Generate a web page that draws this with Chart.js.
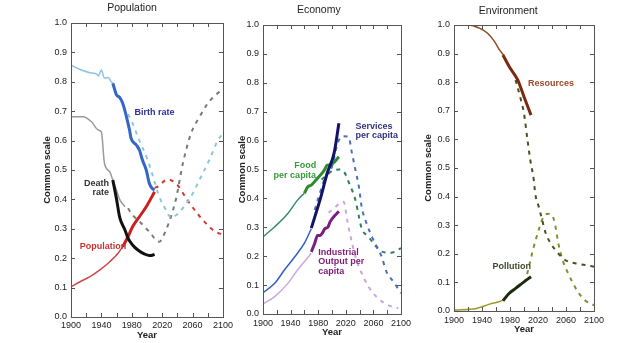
<html>
<head>
  <title>Limits to growth - three panels</title>
  <script src="https://cdn.jsdelivr.net/npm/chart.js"></script>
  <style>
    body { margin: 0; background: #fff; }
    #wrap { position: relative; width: 624px; height: 343px; overflow: hidden; }
    canvas { position: absolute; top: 0; }
  </style>
</head>
<body>
  <div id="wrap">
    <canvas id="pop" width="236" height="343" style="left:0px"></canvas>
    <canvas id="eco" width="189" height="343" style="left:226px"></canvas>
    <canvas id="env" width="196" height="343" style="left:412px"></canvas>
  </div>
  <script>
    // ---- data, [year, value] on the common scale ----
    // population panel
    const birthEarly = [[1900,.857],[1912,.842],[1925,.831],[1934,.826],[1936,.82],[1940,.84],[1944,.812],[1949,.815],[1953,.80],[1955,.795]];
    const birthRecent = [[1955,.795],[1960,.755],[1964,.747],[1968,.727],[1973,.681],[1977,.636],[1979,.608],[1986,.585],[1990,.568],[1994,.534],[1999,.50],[2003,.455],[2007,.437],[2010,.432]];
    const birthProj = [[1975,.69],[1980,.665],[1990,.60],[2000,.54],[2008,.477],[2016,.41],[2025,.364],[2032,.337],[2040,.35],[2050,.38],[2058,.41],[2069,.466],[2082,.534],[2093,.60],[2100,.625]];
    const deathEarly = [[1900,.681],[1916,.681],[1927,.664],[1936,.636],[1940,.63],[1944,.523],[1951,.494],[1955,.466],[1960,.43],[1964,.40],[1971,.375]];
    const deathRecent = [[1955,.466],[1960,.40],[1964,.34],[1971,.296],[1975,.268],[1981,.245],[1988,.228],[1997,.214],[2003,.209],[2007,.21],[2010,.213]];
    const deathProj = [[1975,.37],[1981,.347],[1992,.32],[2003,.29],[2016,.256],[2025,.296],[2038,.40],[2047,.52],[2058,.625],[2069,.68],[2077,.715],[2086,.745],[2100,.775]];
    const popEarly = [[1900,.103],[1912,.12],[1925,.137],[1938,.16],[1951,.188],[1962,.217],[1968,.239],[1972,.255]];
    const popRecent = [[1968,.239],[1975,.273],[1981,.307],[1990,.341],[1999,.375],[2010,.426]];
    const popProj = [[2010,.44],[2014,.443],[2027,.468],[2040,.449],[2053,.398],[2066,.353],[2077,.32],[2090,.29],[2100,.28]];

    // economy panel
    const foodEarly = [[1900,.267],[1917,.302],[1936,.348],[1950,.394],[1960,.418]];
    const foodRecent = [[1960,.418],[1965,.44],[1970,.446],[1979,.47],[1989,.498],[1993,.515],[1998,.516],[2005,.53],[2010,.544]];
    const foodProj = [[1985,.465],[1990,.475],[2000,.495],[2010,.50],[2015,.498],[2027,.44],[2034,.394],[2039,.337],[2043,.296],[2053,.267],[2060,.245],[2072,.216],[2086,.212],[2100,.228]];
    const servEarly = [[1900,.074],[1917,.106],[1931,.152],[1946,.198],[1960,.245],[1970,.295]];
    const servRecent = [[1970,.297],[1984,.406],[1993,.487],[2003,.556],[2010,.66]];
    const servProj = [[1975,.36],[1980,.40],[1990,.47],[2000,.51],[2008,.59],[2015,.615],[2024,.613],[2029,.556],[2034,.498],[2039,.44],[2043,.371],[2050,.314],[2058,.267],[2065,.233],[2072,.198],[2079,.146],[2089,.112],[2100,.072]];
    const indEarly = [[1900,.035],[1917,.06],[1936,.106],[1950,.152],[1962,.187],[1970,.21]];
    const indRecent = [[1970,.215],[1975,.245],[1979,.272],[1983,.272],[1986,.28],[1990,.296],[1994,.30],[1997,.318],[2002,.335],[2010,.355]];
    const indProj = [[1995,.35],[2000,.36],[2010,.38],[2017,.388],[2022,.325],[2027,.267],[2034,.198],[2043,.141],[2053,.094],[2067,.054],[2081,.031],[2096,.02]];

    // environment panel
    const resEarly = [[1900,1.0],[1920,1.0],[1937,.988],[1948,.971],[1958,.942],[1965,.913],[1971,.895]];
    const resRecent = [[1970,.895],[1979,.854],[1991,.808],[2000,.749],[2010,.685]];
    const resProj = [[1988,.808],[1995,.744],[2000,.691],[2005,.598],[2009,.528],[2014,.458],[2016,.411],[2021,.365],[2026,.318],[2031,.272],[2038,.237],[2047,.207],[2059,.178],[2073,.167],[2087,.161],[2100,.155]];
    const polEarly = [[1900,.003],[1932,.009],[1951,.024],[1965,.033],[1970,.038]];
    const polRecent = [[1970,.036],[1979,.062],[1988,.079],[2000,.102],[2010,.12]];
    const polProj = [[2000,.10],[2002,.108],[2007,.155],[2014,.225],[2021,.283],[2028,.33],[2034,.34],[2040,.336],[2045,.295],[2049,.237],[2056,.172],[2063,.132],[2070,.097],[2077,.067],[2087,.038],[2100,.02]];

    const yearTicks = [1900, 1940, 1980, 2020, 2060, 2100];

    Chart.defaults.font.family = '"Liberation Sans", Arial, sans-serif';
    Chart.defaults.color = '#222';

    // box around the plot with short inward ticks on all four sides
    const boxTicks = {
      id: 'boxTicks',
      afterDraw(chart) {
        const { ctx, chartArea: a, scales: { x, y } } = chart;
        ctx.save();
        ctx.strokeStyle = '#555';
        ctx.lineWidth = 1;
        ctx.strokeRect(Math.round(a.left) + .5, Math.round(a.top) + .5, Math.round(a.width), Math.round(a.height));
        ctx.beginPath();
        x.ticks.forEach(t => {
          const px = Math.round(x.getPixelForValue(t.value)) + .5;
          ctx.moveTo(px, a.bottom); ctx.lineTo(px, a.bottom - 4);
          ctx.moveTo(px, a.top); ctx.lineTo(px, a.top + 4);
        });
        y.ticks.forEach(t => {
          const py = Math.round(y.getPixelForValue(t.value)) + .5;
          ctx.moveTo(a.left, py); ctx.lineTo(a.left + 4, py);
          ctx.moveTo(a.right, py); ctx.lineTo(a.right - 4, py);
        });
        ctx.stroke();
        ctx.restore();
      }
    };

    // curve names, placed in data units
    const curveLabels = {
      id: 'curveLabels',
      afterDatasetsDraw(chart, args, opts) {
        const { ctx, scales: { x, y } } = chart;
        ctx.save();
        ctx.font = 'bold 9px "Liberation Sans", Arial, sans-serif';
        ctx.textBaseline = 'middle';
        (opts.items || []).forEach(it => {
          ctx.fillStyle = it.color;
          ctx.textAlign = it.align || 'left';
          const px = x.getPixelForValue(it.x);
          const py = y.getPixelForValue(it.y);
          const n = it.lines.length;
          it.lines.forEach((s, i) => {
            ctx.fillText(s, px, py + (i - (n - 1) / 2) * 9.5);
          });
        });
        ctx.restore();
      }
    };

    function pts(arr) {
      return arr.map(p => ({ x: p[0], y: p[1] }));
    }
    function solid(arr, color, w) {
      return { data: pts(arr), borderColor: color, borderWidth: w, pointRadius: 0, fill: false, cubicInterpolationMode: 'monotone' };
    }
    function dashed(arr, color) {
      return { data: pts(arr), borderColor: color, borderWidth: 2, borderDash: [4, 5], pointRadius: 0, fill: false, cubicInterpolationMode: 'monotone' };
    }

    function makePanel(id, p) {
      return new Chart(document.getElementById(id), {
        type: 'line',
        data: { datasets: p.datasets },
        options: {
          responsive: false,
          animation: false,
          devicePixelRatio: 1,
          layout: { padding: { left: p.padLeft, right: 12, top: 0, bottom: 0 } },
          plugins: {
            legend: { display: false },
            tooltip: { enabled: false },
            title: {
              display: true, text: p.title, color: '#222',
              font: { size: 10.5, weight: 'normal' },
              padding: { top: p.titleTop, bottom: p.titleBottom }
            },
            curveLabels: { items: p.labels }
          },
          scales: {
            x: {
              type: 'linear', min: 1900, max: 2100,
              grid: { display: false, drawTicks: false }, border: { display: false },
              ticks: {
                stepSize: 20, autoSkip: false, maxRotation: 0, padding: p.xPad,
                font: { size: 9 }, color: '#222',
                callback: v => yearTicks.includes(v) ? String(v) : ''
              },
              title: { display: true, text: 'Year', font: { size: 9.5, weight: 'bold' }, color: '#222', padding: { top: 0, bottom: p.yearPad } },
              afterFit: s => { s.height = p.xHeight; }
            },
            y: {
              min: 0, max: 1,
              grid: { display: false, drawTicks: false }, border: { display: false },
              ticks: { stepSize: 0.1, padding: 4, font: { size: 9 }, color: '#222', callback: v => v.toFixed(1) },
              title: { display: true, text: 'Common scale', font: { size: 9.5, weight: 'bold' }, color: '#222', padding: { top: 2, bottom: 0 } },
              afterFit: s => { s.width = p.yWidth; }
            }
          }
        },
        plugins: [boxTicks, curveLabels]
      });
    }

    makePanel('pop', {
      title: 'Population', titleTop: 2, titleBottom: 8.4,
      padLeft: 40, yWidth: 31, xHeight: 26, xPad: 3, yearPad: 1.6,
      datasets: [
        solid(birthRecent, '#3465c8', 3),
        solid(deathRecent, '#111111', 3),
        solid(popRecent, '#cc1f1f', 3),
        solid(birthEarly, '#8fc1e6', 1.5),
        solid(deathEarly, '#9a9a9a', 1.5),
        solid(popEarly, '#d04848', 1.5),
        dashed(birthProj, '#8cc6dc'),
        dashed(deathProj, '#7a7a7a'),
        dashed(popProj, '#d23a3a')
      ],
      labels: [
        { lines: ['Birth rate'], x: 2010, y: 0.694, align: 'center', color: '#2b2f9c' },
        { lines: ['Death', 'rate'], x: 1950, y: 0.439, align: 'right', color: '#333333' },
        { lines: ['Population'], x: 1942, y: 0.241, align: 'center', color: '#c83232' }
      ]
    });

    makePanel('eco', {
      title: 'Economy', titleTop: 3.7, titleBottom: 8.7,
      padLeft: 8.6, yWidth: 28.4, xHeight: 29, xPad: 4, yearPad: 4.6,
      datasets: [
        solid(servRecent, '#141466', 3),
        solid(foodRecent, '#2e8b2e', 3),
        solid(indRecent, '#7a1f80', 3),
        solid(foodEarly, '#3a8c6a', 1.5),
        solid(servEarly, '#3060c0', 1.5),
        solid(indEarly, '#c9a9e0', 1.5),
        dashed(servProj, '#4a6fb4'),
        dashed(foodProj, '#2e7d5e'),
        dashed(indProj, '#c8a8dc')
      ],
      labels: [
        { lines: ['Food', 'per capita'], x: 1977, y: 0.497, align: 'right', color: '#3a9a3a' },
        { lines: ['Services', 'per capita'], x: 2034, y: 0.633, align: 'left', color: '#333380' },
        { lines: ['Industrial', 'Output per', 'capita'], x: 1980, y: 0.18, align: 'left', color: '#80207a' }
      ]
    });

    makePanel('env', {
      title: 'Environment', titleTop: 4.7, titleBottom: 7.7,
      padLeft: 8.6, yWidth: 33.4, xHeight: 32, xPad: 4, yearPad: 7.6,
      datasets: [
        solid(resRecent, '#7a2a10', 3),
        solid(polRecent, '#1c2a0c', 3),
        solid(resEarly, '#8b4a20', 1.5),
        solid(polEarly, '#9a9a30', 1.5),
        dashed(resProj, '#4e4e1e'),
        dashed(polProj, '#7f8e2e')
      ],
      labels: [
        { lines: ['Resources'], x: 2005.6, y: 0.794, align: 'left', color: '#9a4a2a' },
        { lines: ['Pollution'], x: 1955, y: 0.154, align: 'left', color: '#3a4a2a' }
      ]
    });
  </script>
</body>
</html>
